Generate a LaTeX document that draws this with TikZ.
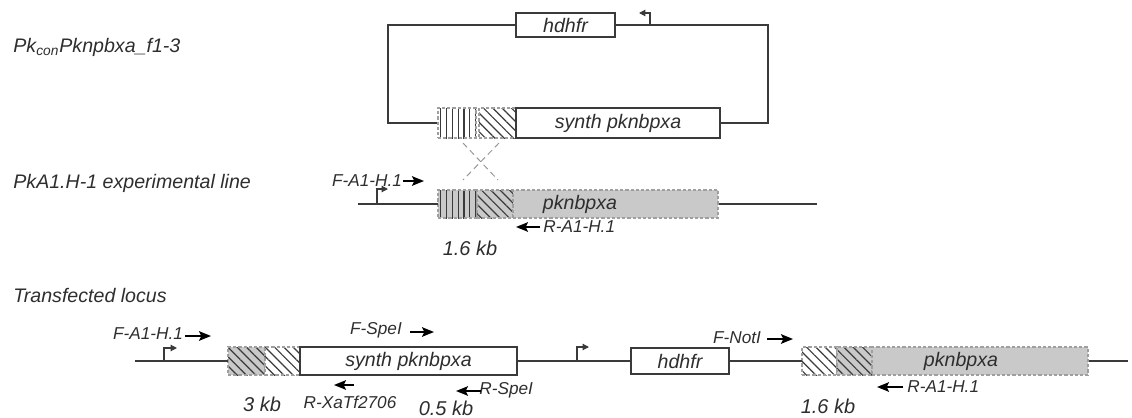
\documentclass[tikz,border=0pt]{standalone}
\usepackage{fontspec}
\setmainfont{Liberation Sans}
\usetikzlibrary{arrows.meta,patterns.meta,positioning}

\definecolor{inkline}{HTML}{3A3A3A}
\definecolor{inktext}{HTML}{2E2E2E}
\definecolor{locusgray}{gray}{0.79}

\newcommand\genefont{\fontsize{9.8}{11}\selectfont\itshape}
\newcommand\primerfont{\fontsize{8.6}{10}\selectfont\itshape}
\newcommand\kbfont{\fontsize{10}{11}\selectfont\itshape}

\tikzset{
  dna/.style = {draw = inkline, line width = 0.65pt},
  dashedge/.style = {draw = gray!75, line width = 0.6pt, dash pattern = on 1.6pt off 1pt},
  genebox/.style = {draw = inkline, fill = white, line width = 0.65pt, inner sep = 0pt, minimum height = 14pt, font = \genefont, text = inktext},
  fillbox/.style = {dashedge, fill = locusgray, inner sep = 0pt, minimum height = 14pt},
  hatchbox/.style = {preaction = {fill = #1}, pattern = {Lines[angle = -45, distance = 3.3pt, line width = 0.6pt]}, pattern color = inkline, postaction = {dashedge}, inner sep = 0pt, minimum height = 14pt},
  hatchbox/.default = white,
  stripebox/.style = {preaction = {fill = #1}, pattern = {Lines[angle = 90, distance = 2.9pt, line width = 0.6pt]}, pattern color = inkline, postaction = {dashedge}, inner sep = 0pt, minimum height = 14pt},
  stripebox/.default = white,
  genetext/.style = {inner sep = 0pt, font = \genefont, text = inktext},
  rowlabel/.style = {anchor = west, inner sep = 0pt, font = \genefont, text = inktext},
  primerlabel/.style = {inner sep = 0pt, font = \primerfont, text = inktext},
  kblabel/.style = {inner sep = 0pt, font = \kbfont, text = inktext},
  primer/.style = {draw = black, line width = 0.75pt, -{Stealth[length = 6pt, width = 4.8pt, inset = 1.2pt]}},
  promoter/.style = {draw = inkline, line width = 0.6pt, -{Triangle[length = 3.2pt, width = 3.2pt]}},
  crossing/.style = {draw = gray!80, line width = 0.5pt, dash pattern = on 3pt off 2pt}
}

\begin{document}
\begin{tikzpicture}[x = 0.5pt, y = -0.5pt]
\useasboundingbox (0,0) rectangle (1132,418);

\node[rowlabel] (titleA) at (13,47) {Pk\textsubscript{con}Pknpbxa\_f1-3};
\node[rowlabel] (titleB) at (13,183) {PkA1.H-1 experimental line};
\node[rowlabel] (titleC) at (13,295) {Transfected locus};

% plasmid
\node[genebox, minimum width = 49.5pt, minimum height = 12pt] (hdhfrA) at (565.5,25) {hdhfr};
\node[stripebox, minimum width = 19pt, minimum height = 15pt] (stripesA) at (457,123) {};
\node[hatchbox, minimum width = 18.5pt, minimum height = 15pt] (diagA) at (497.5,123) {};
\node[genebox, minimum width = 102pt, minimum height = 15pt] (synthA) at (618,123) {synth pknbpxa};
\coordinate (plTL) at (388,25);
\coordinate (plBL) at (388,123);
\coordinate (plTR) at (768,25);
\coordinate (plBR) at (768,123);
\draw[dna] (hdhfrA.west) -- (plTL) -- (plBL) -- (stripesA.west);
\draw[dna] (synthA.east) -- (plBR) -- (plTR) -- (hdhfrA.east);
\coordinate (prA) at (650,25);
\coordinate (prA-tip) at (639,13);
\draw[promoter] (prA) |- (prA-tip);

% crossover
\coordinate (xA1) at (463,143);
\coordinate (xA2) at (499,143);
\coordinate (xB1) at (463,180);
\coordinate (xB2) at (498,180);
\draw[crossing] (xA1) -- (xB2);
\draw[crossing] (xA2) -- (xB1);

% experimental line
\node[stripebox = locusgray, minimum width = 19.5pt] (stripesB) at (457.5,204) {};
\node[hatchbox = locusgray, minimum width = 18pt] (diagB) at (495,204) {};
\node[fillbox, minimum width = 102.5pt] (geneB) at (615.5,204) {};
\node[genetext] (geneB-name) at (580,204) {pknbpxa};
\coordinate (lB0) at (358,204);
\coordinate (lB1) at (817,204);
\draw[dna] (lB0) -- (stripesB.west);
\draw[dna] (geneB.east) -- (lB1);
\coordinate (prB) at (377,204);
\coordinate (prB-tip) at (388,189);
\draw[promoter] (prB) |- (prB-tip);
\node[primerlabel] (fB) at (367,181) {F-A1-H.1};
\node[primerlabel, anchor = west] (rB) at (543,227) {R-A1-H.1};
\node[kblabel] (kbB) at (470,248) {1.6 kb};

% transfected locus
\node[hatchbox = locusgray, minimum width = 18.5pt] (diagC1) at (246.5,361) {};
\node[hatchbox, minimum width = 17.5pt] (diagC2) at (282.5,361) {};
\node[genebox, minimum width = 108.5pt] (synthC) at (408.5,361) {synth pknbpxa};
\node[genebox, minimum width = 49pt, minimum height = 13pt] (hdhfrC) at (680,361) {hdhfr};
\node[hatchbox, minimum width = 17.5pt] (diagC3) at (819.5,361) {};
\node[hatchbox = locusgray, minimum width = 17.5pt] (diagC4) at (854.5,361) {};
\node[fillbox, minimum width = 108pt] (geneC) at (980,361) {};
\node[genetext] (geneC-name) at (961,361) {pknbpxa};
\coordinate (lC0) at (135,361);
\coordinate (lC1) at (1128,361);
\draw[dna] (lC0) -- (diagC1.west);
\draw[dna] (synthC.east) -- (hdhfrC.west);
\draw[dna] (hdhfrC.east) -- (diagC3.west);
\draw[dna] (geneC.east) -- (lC1);
\coordinate (prC1) at (164,361);
\coordinate (prC1-tip) at (177,348);
\draw[promoter] (prC1) |- (prC1-tip);
\coordinate (prC2) at (577,361);
\coordinate (prC2-tip) at (589,347);
\draw[promoter] (prC2) |- (prC2-tip);
\node[primerlabel] (fC) at (148,334) {F-A1-H.1};
\node[primerlabel] (fSpe) at (376,330) {F-SpeI};
\node[primerlabel] (rXa) at (350,402) {R-XaTf2706};
\node[primerlabel, anchor = west] (rSpe) at (479,390) {R-SpeI};
\node[primerlabel] (fNot) at (737,338) {F-NotI};
\node[primerlabel, anchor = west] (rC) at (907,387) {R-A1-H.1};
\node[kblabel] (kbC1) at (262,404) {3 kb};
\node[kblabel] (kbC2) at (446,408) {0.5 kb};
\node[kblabel] (kbC3) at (828,406) {1.6 kb};

% primer arrows
\foreach \n/\a/\b/\y in {fB/403/424/181, rB/540/516/227, fC/185/211/336, fSpe/410/434/332, rXa/354/334/385, rSpe/481/456/391, fNot/767/793/339, rC/903/877/387} {
  \coordinate (\n-from) at (\a,\y);
  \coordinate (\n-to) at (\b,\y);
  \draw[primer] (\n-from) -- (\n-to);
}
\end{tikzpicture}
\end{document}
